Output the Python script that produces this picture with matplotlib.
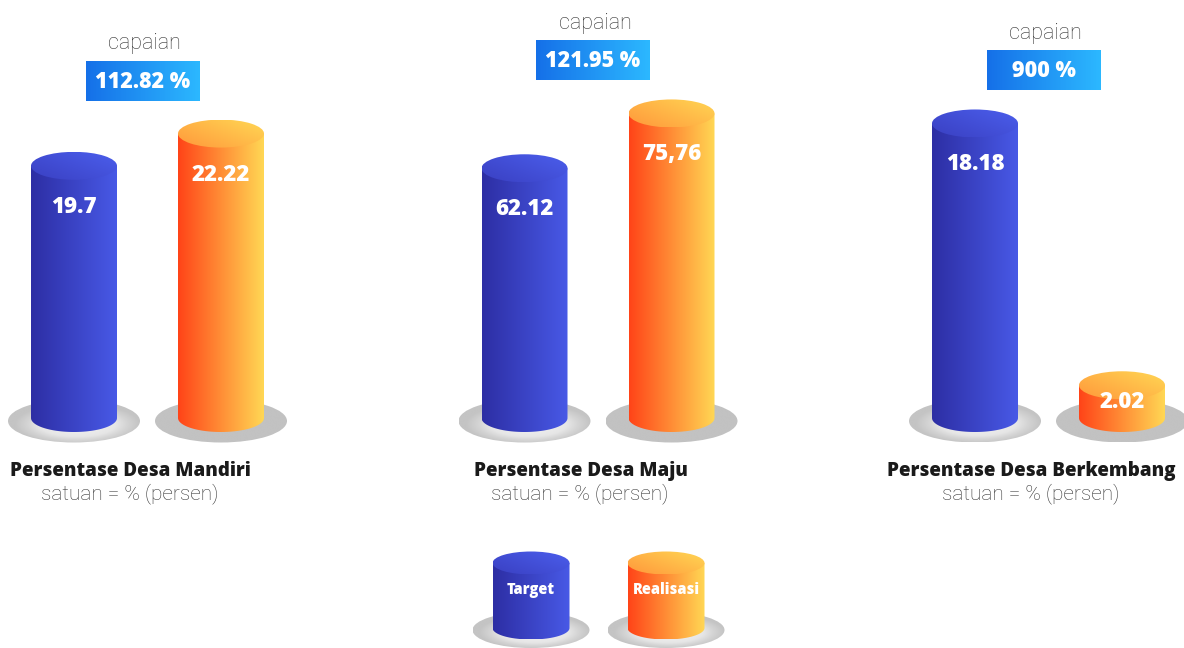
import numpy as np
import matplotlib.pyplot as plt
from matplotlib.colors import LinearSegmentedColormap
from matplotlib.patches import Ellipse, Polygon, Rectangle

# data
groups = ['Persentase Desa Mandiri', 'Persentase Desa Maju', 'Persentase Desa Berkembang']
target = [19.7, 62.12, 18.18]
realisasi = [22.22, 75.76, 2.02]
target_lbl = ['19.7', '62.12', '18.18']
realisasi_lbl = ['22.22', '75,76', '2.02']
capaian = ['112.82 %', '121.95 %', '900 %']
satuan = 'satuan = % (persen)'
legend_lbl = ['Target', 'Realisasi']

W, H = 1184, 648
BASE = 230          # baseline, px from bottom
PPX = 147.0         # px between target and realisasi
PPU = [12.8, 4.02, 16.2]   # px per unit, each group has its own scale
CYL_W, ELL_H = 86, 14
DISC_W, DISC_H = 132, 43

BLUE = ('#2d2ea4', '#4859e6')
BLUE_TOP = ('#3a40c2', '#4b5eec')
ORANGE = ('#ff4418', '#ffd754')
ORANGE_TOP = ('#ff983b', '#ffd754')
BOX = ('#1570e8', '#2cb8ff')

VAL_FONT = ['Open Sans', 'DejaVu Sans']
LIGHT_FONT = ['Roboto', 'DejaVu Sans']
HEAVY = 'heavy'

fig = plt.figure(figsize=(W / 100, H / 100), dpi=100)
ax0 = fig.add_axes([0, 0, 1, 1])
ax0.set_xlim(0, W)
ax0.set_ylim(0, H)
ax0.axis('off')


def grad(ax, patch, c1, c2, ext, diag=0.0, z=2):
    ax.add_patch(patch)
    n = 200
    xx, yy = np.meshgrid(np.linspace(0, 1, n), np.linspace(0, 1, n))
    t = (xx + diag * yy) / (1 + abs(diag))
    cmap = LinearSegmentedColormap.from_list('g', [c1, c2])
    im = ax.imshow(t, cmap=cmap, extent=ext, origin='lower', aspect='auto',
                   zorder=z, interpolation='bilinear', vmin=0, vmax=1)
    im.set_clip_path(patch)


def disc(ax, x, y, w, h, glow, z=1):
    p = Ellipse((x, y), w, h, fc='none', ec='none', zorder=z)
    ax.add_patch(p)
    n = 200
    xx, yy = np.meshgrid(np.linspace(-1, 1, n), np.linspace(-1, 1, n))
    if glow:
        r = np.sqrt(((xx - 0.05) / 0.95) ** 2 + ((yy + 0.12) / 0.95) ** 2)
        cmap = LinearSegmentedColormap.from_list(
            'd', [(0, '#f6f6f6'), (0.62, '#e6e6e6'), (0.8, '#d4d4d4'), (1, '#c4c4c4')])
    else:
        r = np.ones_like(xx)
        cmap = LinearSegmentedColormap.from_list('d', ['#c2c2c2', '#c2c2c2'])
    im = ax.imshow(np.clip(r, 0, 1), cmap=cmap, vmin=0, vmax=1, origin='lower',
                   extent=(x - w / 2, x + w / 2, y - h / 2, y + h / 2),
                   aspect='auto', zorder=z, interpolation='bilinear')
    im.set_clip_path(p)


def cylinder(ax, x, y0, h, w, eh, body, top, z=2):
    th = np.linspace(np.pi, 2 * np.pi, 80)
    bx = x + w / 2 * np.cos(th)
    by = y0 + eh * np.sin(th)
    pts = np.column_stack([np.r_[bx, x + w / 2, x - w / 2],
                           np.r_[by, y0 + h, y0 + h]])
    body_p = Polygon(pts, closed=True, fc='none', ec='none', zorder=z)
    grad(ax, body_p, body[0], body[1], (x - w / 2, x + w / 2, y0 - eh, y0 + h), z=z)
    top_p = Ellipse((x, y0 + h), w, 2 * eh, fc='none', ec='none', zorder=z + 0.1)
    grad(ax, top_p, top[0], top[1], (x - w / 2, x + w / 2, y0 + h - eh, y0 + h + eh),
         diag=0.8, z=z + 0.1)


for g in range(3):
    cx = 147.5 + 450.5 * g
    ppu = PPU[g]
    ax = fig.add_axes([(cx - 225) / W, 0, 450 / W, 1])
    ax.patch.set_alpha(0)
    vals = [target[g], realisasi[g]]
    lbls = [target_lbl[g], realisasi_lbl[g]]
    styles = [(BLUE, BLUE_TOP), (ORANGE, ORANGE_TOP)]
    for i in range(2):
        disc(ax, i, -3 / ppu, DISC_W / PPX, DISC_H / ppu, glow=(i == 0))
        cylinder(ax, i, 0, vals[i], CYL_W / PPX, ELL_H / ppu, *styles[i])
        hpx = vals[i] * ppu
        ly = vals[i] - 41 / ppu if hpx > 80 else vals[i] / 2
        ax.text(i, ly, lbls[i], ha='center', va='center', color='white',
                fontsize=16, fontweight=HEAVY, family=VAL_FONT, zorder=5)
    ax.set_xlim(0.5 - 225 / PPX, 0.5 + 225 / PPX)
    ax.set_ylim(-BASE / ppu, (H - BASE) / ppu)
    ax.axis('off')

    # capaian box above the tallest cylinder
    top_px = BASE + max(vals) * ppu + ELL_H
    bb = top_px + 19
    bx = cx - 5
    rect = Rectangle((bx - 57, bb), 114, 40, fc='none', ec='none', zorder=3)
    grad(ax0, rect, BOX[0], BOX[1], (bx - 57, bx + 57, bb, bb + 40), z=3)
    ax0.text(bx, bb + 19, capaian[g], ha='center', va='center', color='white',
             fontsize=15.5, fontweight=HEAVY, family=VAL_FONT, zorder=4)
    ax0.text(bx + 2, bb + 57, 'capaian', ha='center', va='center', color='#333333',
             fontsize=15.5, fontweight='light', family=LIGHT_FONT)

    ax0.text(cx - 17, H - 471, groups[g], ha='center', va='center', color='#1a1a1a',
             fontsize=13.5, fontweight=HEAVY, family=VAL_FONT)
    ax0.text(cx - 18, H - 494, satuan, ha='center', va='center', color='#333333',
             fontsize=15, fontweight='light', family=LIGHT_FONT)

# legend
leg_styles = [(BLUE, BLUE_TOP), (ORANGE, ORANGE_TOP)]
for i, lbl in enumerate(legend_lbl):
    lx = 531 + 135 * i
    disc(ax0, lx, 18, 117, 36, glow=True)
    cylinder(ax0, lx, 20, 65, 77, 11.5, *leg_styles[i])
    ax0.text(lx, H - 590, lbl, ha='center', va='center', color='white',
             fontsize=10.5, fontweight=HEAVY, family=VAL_FONT, zorder=5)
ax0.set_xlim(0, W)
ax0.set_ylim(0, H)

fig.savefig('out.png', dpi=100)
